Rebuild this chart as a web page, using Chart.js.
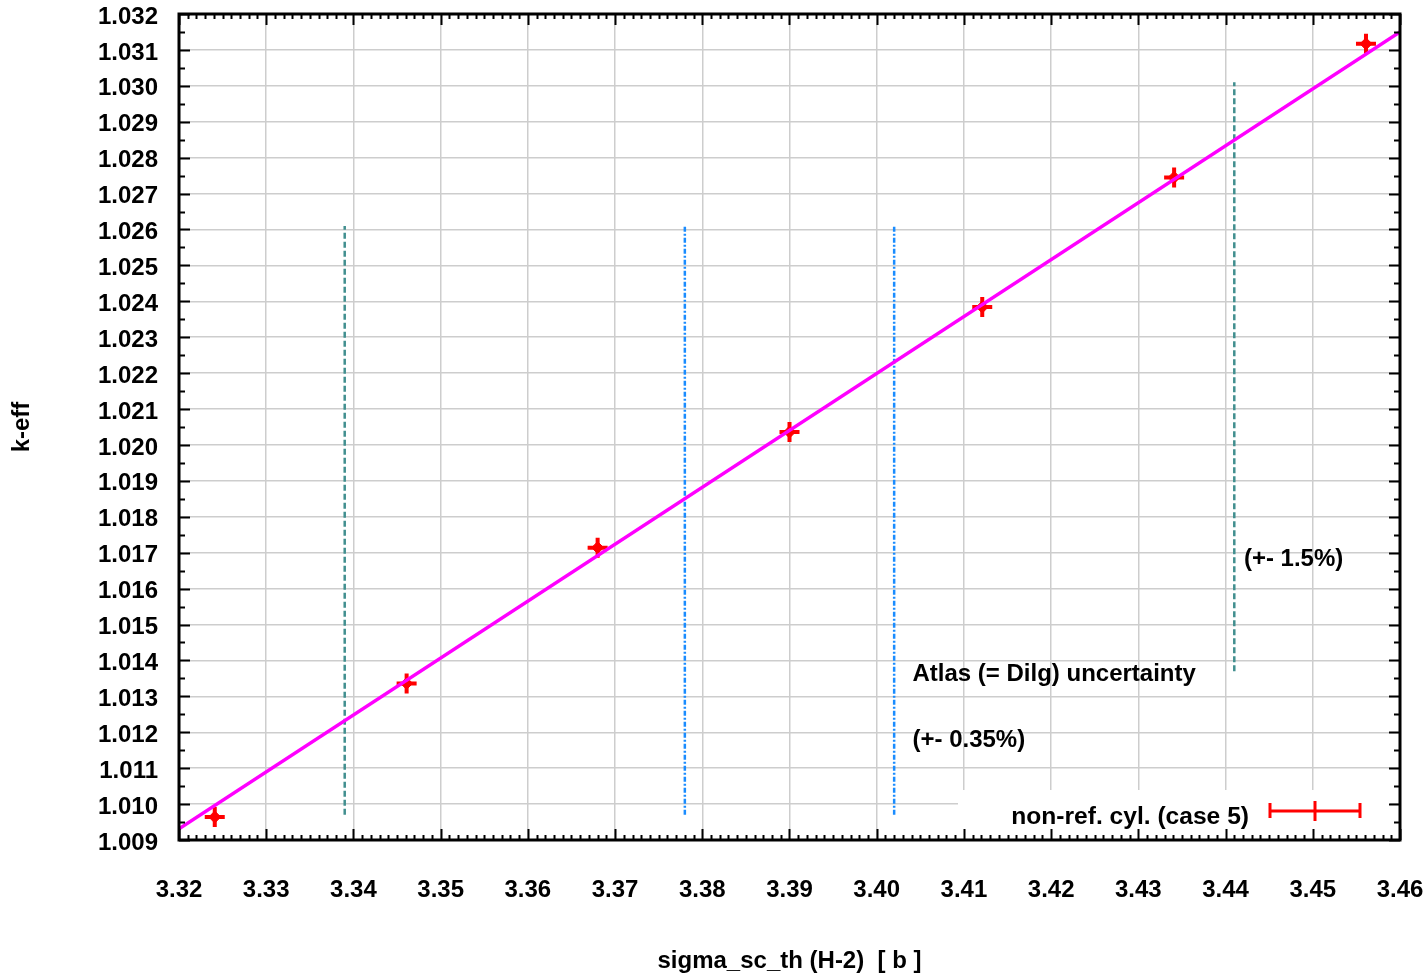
<!DOCTYPE html>
<html><head><meta charset="utf-8">
<script src="https://cdn.jsdelivr.net/npm/chart.js@4"></script>
<style>html,body{margin:0;padding:0;background:#fff}canvas{display:block}</style>
</head><body>
<canvas id="c" width="1427" height="973"></canvas>
<script>
// ---- data ----
const sigmaX = [3.3241, 3.3461, 3.3680, 3.3900, 3.4121, 3.4341, 3.4561];
const keffY  = [1.00964, 1.01336, 1.01714, 1.02036, 1.02384, 1.02745, 1.03117];
const fitX = [3.32, 3.46];
const fitY = [1.00931, 1.03150];
const tealLinesX = [3.3390, 3.4410];
const tealLinesY = [[1.0097, 1.0261], [1.0137, 1.0301]];
const blueLinesX = [3.3780, 3.4020];
const blueLinesY = [[1.0097, 1.0261], [1.0097, 1.0261]];
const xTicksMin = 3.32, xTicksMax = 3.46, xStep = 0.01;
const yTicksMin = 1.009, yTicksMax = 1.032, yStep = 0.001;
const legendLabel = 'non-ref. cyl. (case 5)';
const annotations = [
  {text: 'Atlas (= Dilg) uncertainty', x: 3.4041, y: 1.01361},
  {text: '(+- 0.35%)', x: 3.4041, y: 1.01178},
  {text: '(+- 1.5%)', x: 3.4421, y: 1.01681}
];

const FONT = '"Liberation Sans", Arial, sans-serif';

const datasets = [];
datasets.push({type:'line', data: fitX.map((x,i)=>({x, y: fitY[i]})), borderColor:'#ff00ff', borderWidth:3.5, pointRadius:0, order:0});
tealLinesX.forEach((x,i)=>datasets.push({type:'line', data: tealLinesY[i].map(y=>({x,y})), borderColor:'#418f8f', borderWidth:2.5, borderDash:[6,3], pointRadius:0, order:3}));
blueLinesX.forEach((x,i)=>datasets.push({type:'line', data: blueLinesY[i].map(y=>({x,y})), borderColor:'#1a8cff', borderWidth:2.5, borderDash:[5,2,2,2], pointRadius:0, order:3}));
const pts = sigmaX.map((x,i)=>({x, y: keffY[i]}));
datasets.push({type:'scatter', data: pts, pointStyle:'cross', pointRadius:10, borderColor:'#ff0000', borderWidth:4, order:1});
datasets.push({type:'scatter', data: pts, pointStyle:'rectRot', pointRadius:6, backgroundColor:'#ff0000', borderColor:'#ff0000', borderWidth:1, order:1});

const framePlugin = {
  id:'frame',
  afterDatasetsDraw(chart){
    const ctx = chart.ctx, a = chart.chartArea;
    const xs = chart.scales.x, ys = chart.scales.y;
    ctx.save();
    // annotations
    ctx.fillStyle = '#000';
    ctx.font = 'bold 24px ' + FONT;
    ctx.textBaseline = 'middle';
    ctx.textAlign = 'left';
    annotations.forEach(an => ctx.fillText(an.text, xs.getPixelForValue(an.x), ys.getPixelForValue(an.y)));
    // legend
    ctx.fillStyle = '#fff';
    ctx.fillRect(958, 790, 432, 49);
    ctx.fillStyle = '#000';
    ctx.textAlign = 'right';
    ctx.font = 'bold 24.6px ' + FONT;
    ctx.fillText(legendLabel, 1249, 817);
    ctx.strokeStyle = '#ff0000'; ctx.lineWidth = 3;
    ctx.beginPath();
    ctx.moveTo(1270, 811); ctx.lineTo(1360, 811);
    ctx.moveTo(1270, 803); ctx.lineTo(1270, 818);
    ctx.moveTo(1360, 803); ctx.lineTo(1360, 818);
    ctx.moveTo(1315, 801); ctx.lineTo(1315, 821);
    ctx.stroke();
    // ticks inward
    ctx.strokeStyle = '#000'; ctx.lineWidth = 2;
    ctx.beginPath();
    const nx = Math.round((xTicksMax - xTicksMin) / 0.001);
    for (let i = 0; i <= nx; i++) {
      const v = xTicksMin + i * 0.001;
      const px = Math.round(xs.getPixelForValue(v)) + 0.5;
      const len = (i % 10 === 0) ? 11 : 5;
      ctx.moveTo(px, a.bottom); ctx.lineTo(px, a.bottom - len);
      ctx.moveTo(px, a.top); ctx.lineTo(px, a.top + len);
    }
    const ny = Math.round((yTicksMax - yTicksMin) / 0.0005);
    for (let i = 0; i <= ny; i++) {
      const v = yTicksMin + i * 0.0005;
      const py = Math.round(ys.getPixelForValue(v)) + 0.5;
      const len = (i % 2 === 0) ? 11 : 6;
      ctx.moveTo(a.left, py); ctx.lineTo(a.left + len, py);
      ctx.moveTo(a.right, py); ctx.lineTo(a.right - len, py);
    }
    ctx.stroke();
    ctx.lineWidth = 3;
    ctx.strokeRect(a.left, a.top, a.right - a.left, a.bottom - a.top);
    ctx.restore();
  }
};

new Chart(document.getElementById('c'), {
  data: {datasets},
  options: {
    responsive:false, animation:false,
    layout:{padding:{top:12, right:27, left:0, bottom:0}},
    plugins:{legend:{display:false}, tooltip:{enabled:false}},
    scales:{
      x:{type:'linear', min:xTicksMin, max:xTicksMax,
         afterFit(s){ s.height = 133; s.paddingLeft = 0; s.paddingRight = 0; },
         ticks:{stepSize:xStep, color:'#000', font:{family:FONT, size:24, weight:'bold'}, padding:36,
                callback:v=>(+v).toFixed(2), maxRotation:0, autoSkip:false},
         grid:{color:'#cdcdcd', lineWidth:1.5, drawTicks:false},
         border:{display:false},
         title:{display:true, text:'sigma_sc_th (H-2)  [ b ]', color:'#000', font:{family:FONT, size:24, weight:'bold'}, padding:{top:43, bottom:-2.5}}
      },
      y:{type:'linear', min:yTicksMin, max:yTicksMax,
         afterFit(s){ s.width = 179; s.paddingTop = 0; s.paddingBottom = 0; },
         ticks:{stepSize:yStep, color:'#000', font:{family:FONT, size:24, weight:'bold'}, padding:21, labelOffset:3,
                callback:v=>(+v).toFixed(3), autoSkip:false},
         grid:{color:'#cdcdcd', lineWidth:1.5, drawTicks:false},
         border:{display:false},
         title:{display:true, text:'k-eff', color:'#000', font:{family:FONT, size:24, weight:'bold'}, padding:{top:8, bottom:0}}
      }
    }
  },
  plugins:[framePlugin]
});
</script>
</body></html>
